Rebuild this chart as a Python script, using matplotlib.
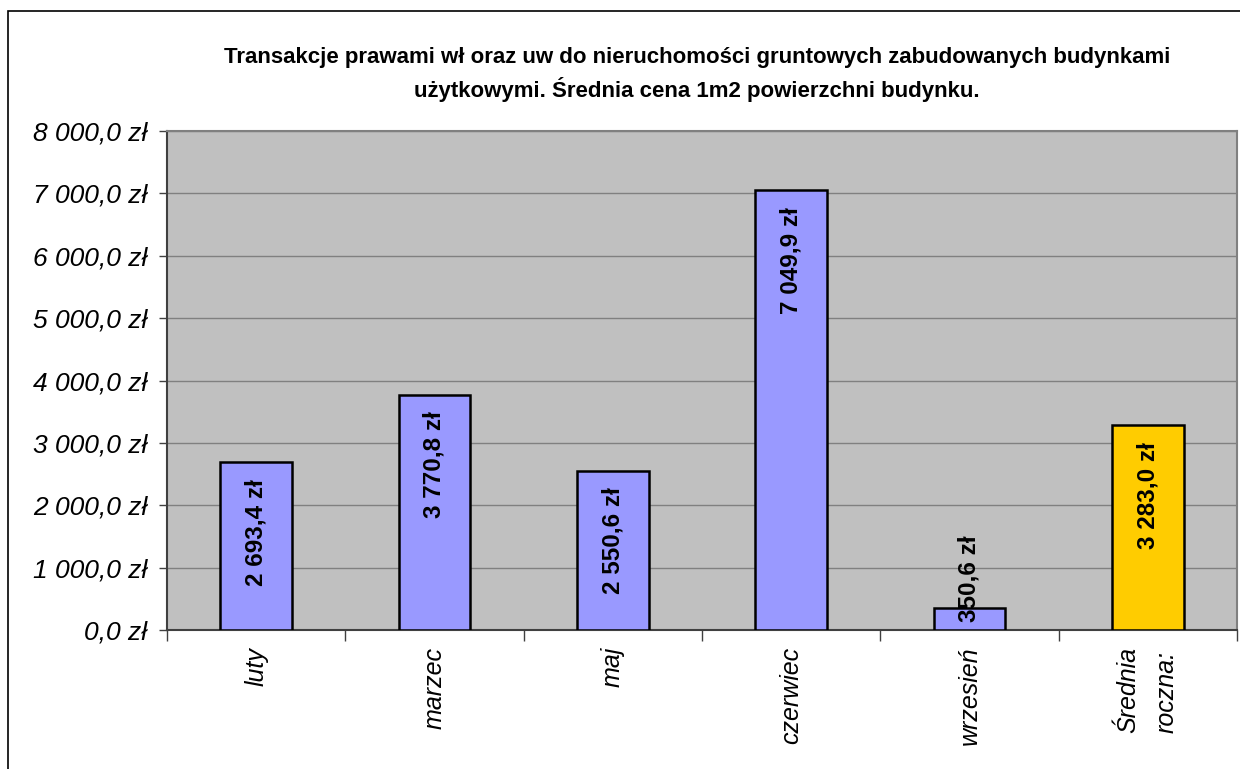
import matplotlib
matplotlib.use("Agg")
import matplotlib.pyplot as plt
from matplotlib.patches import Rectangle
from matplotlib.ticker import FuncFormatter, MultipleLocator

categories = ["luty", "marzec", "maj", "czerwiec", "wrzesień", "Średnia\nroczna:"]
values = [2693.4, 3770.8, 2550.6, 7049.9, 350.6, 3283.0]
colors = ["#9999FF", "#9999FF", "#9999FF", "#9999FF", "#9999FF", "#FFCC00"]
title = ("Transakcje prawami wł oraz uw do nieruchomości gruntowych zabudowanych budynkami\n"
         "użytkowymi. Średnia cena 1m2 powierzchni budynku.")

plt.rcParams['font.family'] = ['Liberation Sans', 'DejaVu Sans']

W, H = 1240, 769
fig = plt.figure(figsize=(W / 100, H / 100), dpi=100)
fig.patch.set_facecolor("white")

# outer chart border
fig.add_artist(Rectangle((8 / W, -0.1), 1.2, 1.1 - 11 / H, transform=fig.transFigure,
                         fill=False, edgecolor="black", linewidth=1.2))

left, right, top, bottom = 167, 1237, 131, 630
ax = fig.add_axes([left / W, 1 - bottom / H, (right - left) / W, (bottom - top) / H])
ax.set_facecolor("#C0C0C0")

def fmt(v):
    s = f"{v:,.1f}".replace(",", " ").replace(".", ",")
    return s + " zł"

x = list(range(len(categories)))
ax.bar(x, values, width=0.4, color=colors, edgecolor="black", linewidth=1.8, zorder=3)

ax.set_xlim(-0.5, len(categories) - 0.5)
ax.set_ylim(0, 8000)
ax.yaxis.set_major_locator(MultipleLocator(1000))
ax.yaxis.set_major_formatter(FuncFormatter(lambda v, p: fmt(v)))
ax.grid(axis="y", color="#808080", linewidth=1.0, zorder=1)
ax.set_axisbelow(True)

for sp in ["top", "right"]:
    ax.spines[sp].set_color("#808080")
    ax.spines[sp].set_linewidth(1.5)
for sp in ["left", "bottom"]:
    ax.spines[sp].set_color("#404040")
    ax.spines[sp].set_linewidth(1.5)

ax.tick_params(axis="y", direction="out", length=6, width=1, color="#404040", pad=8,
               labelsize=19)
for lab in ax.get_yticklabels():
    lab.set_fontstyle("italic")

# x ticks at category boundaries
ax.set_xticks([i - 0.5 for i in range(len(categories) + 1)])
ax.set_xticklabels([])
ax.tick_params(axis="x", direction="out", length=8, width=1, color="#404040")

for i, c in enumerate(categories):
    ax.annotate(c, xy=(i, 0), xycoords="data", xytext=(0, -12), textcoords="offset points",
                rotation=90, ha="center", va="top", fontsize=18, fontstyle="italic",
                multialignment="left", linespacing=1.75, annotation_clip=False)

for i, v in enumerate(values):
    if v > 1500:
        ax.annotate(fmt(v), xy=(i, v), xytext=(0, -12), textcoords="offset points",
                    rotation=90, ha="center", va="top", fontsize=17.5, fontweight="bold", zorder=5)
    else:
        ax.annotate(fmt(v), xy=(i, 0), xytext=(0, 6), textcoords="offset points",
                    rotation=90, ha="center", va="bottom", fontsize=17.5, fontweight="bold", zorder=5)

fig.text(697 / W, 1 - 74 / H, title, ha="center", va="center", fontsize=16,
         fontweight="bold", linespacing=1.45)

fig.savefig("out.png", dpi=100, facecolor="white")
